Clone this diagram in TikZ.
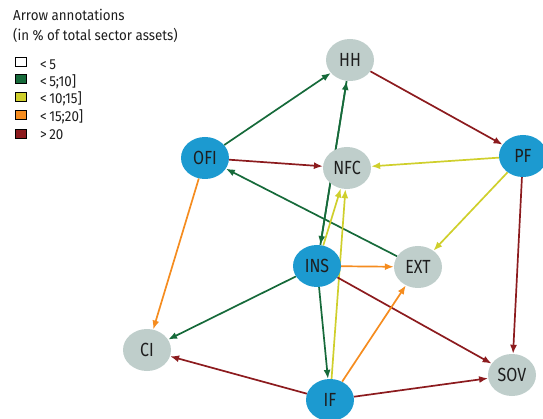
\documentclass[tikz,border=0pt]{standalone}
\usepackage{fontspec}
\setmainfont[FakeStretch=0.92]{Fira Sans}
\newfontfamily\nodefont[FakeStretch=0.84]{Fira Sans}
\usetikzlibrary{arrows.meta,backgrounds,shapes.geometric}
\definecolor{nblue}{HTML}{1C9AD0}
\definecolor{ngrey}{HTML}{BFCECB}
\definecolor{cgreen}{HTML}{166A3A}
\definecolor{cyellow}{HTML}{CFCF2C}
\definecolor{corange}{HTML}{F58C1F}
\definecolor{cred}{HTML}{8C1B1E}
\definecolor{txt}{HTML}{1E1E1E}
\begin{document}
\begin{tikzpicture}[x=1pt,y=-1pt,
  sect/.style={ellipse, minimum width=48pt, minimum height=42pt, inner sep=0pt,
    text=txt, font=\nodefont\fontsize{19}{19}\selectfont},
  bluen/.style={sect, fill=nblue},
  greyn/.style={sect, fill=ngrey},
  link/.style={line width=1.7pt, -{Latex[length=9pt,width=7pt]}},
  lgreen/.style={link, draw=cgreen},
  lyellow/.style={link, draw=cyellow},
  lorange/.style={link, draw=corange},
  lred/.style={link, draw=cred},
  legbox/.style={draw=black, line width=1pt, minimum width=11pt, minimum height=9pt, inner sep=0pt},
  legtxt/.style={anchor=west, inner sep=0pt, text=txt, font=\fontsize{14.5}{14.5}\selectfont},
  ttl/.style={anchor=west, inner sep=0pt, text=txt, font=\fontsize{14.5}{14.5}\selectfont}]
\useasboundingbox (0,0) rectangle (543,419);

% legend
\node[ttl] (t1) at (13,15) {Arrow annotations};
\node[ttl] (t2) at (13,35) {(in \% of total sector assets)};
\node[legbox, fill=white] (b1) at (21,62) {};
\node[legbox, fill=cgreen] (b2) at (21,79) {};
\node[legbox, fill=cyellow] (b3) at (21,97) {};
\node[legbox, fill=corange] (b4) at (21,115) {};
\node[legbox, fill=cred] (b5) at (21,134) {};
\node[legtxt] (l1) at (40,65) {<\,5};
\node[legtxt] (l2) at (40,82) {<\,5;10]};
\node[legtxt] (l3) at (40,99) {<\,10;15]};
\node[legtxt] (l4) at (40,117) {<\,15;20]};
\node[legtxt] (l5) at (40,135) {>\,20};

% nodes
\node[greyn] (HH) at (350,60) {HH};
\node[bluen] (OFI) at (205,158) {OFI};
\node[greyn] (NFC) at (347,168) {NFC};
\node[bluen] (PF) at (523,156) {PF};
\node[bluen] (INS) at (317,266) {INS};
\node[greyn] (EXT) at (418,267) {EXT};
\node[greyn] (CI) at (147,350) {CI};
\node[bluen] (IF) at (330,400) {IF};
\node[greyn] (SOV) at (512,375) {SOV};

\begin{pgfonlayer}{background}
\draw[lgreen] (OFI) -- (HH);
\draw[lred] (HH) -- (PF);
\draw[lred] (OFI) -- (NFC);
\draw[lyellow] (PF) -- (NFC);
\draw[lyellow] (PF) -- (EXT);
\draw[lred] (PF) -- (SOV);
\draw[lgreen] (EXT) -- (OFI);
\draw[lorange] (OFI) -- (CI);
\draw[lgreen] (INS) -- (HH);
\draw[lgreen] (HH) -- (INS);
\draw[lyellow] (INS) -- (NFC);
\draw[lyellow] (IF) -- (NFC);
\draw[lorange] (INS) -- (EXT);
\draw[lgreen] (INS) -- (CI);
\draw[lred] (INS) -- (SOV);
\draw[lgreen] (INS) -- (IF);
\draw[lorange] (IF) -- (EXT);
\draw[lred] (IF) -- (CI);
\draw[lred] (IF) -- (SOV);
\end{pgfonlayer}
\end{tikzpicture}
\end{document}
